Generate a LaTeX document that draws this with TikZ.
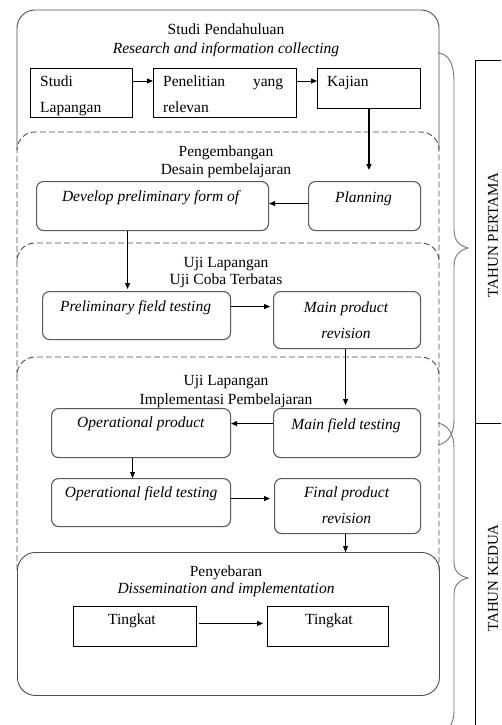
\documentclass[tikz,border=0pt]{standalone}
\usepackage{fontspec}
\setmainfont{Liberation Serif}
\usetikzlibrary{positioning,arrows.meta}

\tikzset{
  frame/.style={draw=black!70, line width=0.9pt, rounded corners=18pt},
  dframe/.style={frame, dash pattern=on 6pt off 3pt},
  sqbox/.style={draw=black, line width=0.9pt, anchor=north west, inner sep=0pt},
  rbox/.style={draw=black!65, line width=1.1pt, rounded corners=7pt, anchor=north west, inner sep=0pt},
  txt/.style={anchor=base, inner sep=0pt},
  flow/.style={-{Triangle[length=6pt,width=5pt]}, line width=0.9pt},
  brace/.style={draw=black!55, line width=0.9pt},
}

\begin{document}
\begin{tikzpicture}[x=1pt, y=-1pt, font=\fontsize{15.5}{18.6}\selectfont]
  \useasboundingbox (0,0) rectangle (501,725);
  \clip (0,0) rectangle (501,725);

  % Frames of the stages (each side stops where the next frame begins)
  \draw[frame]  (17,150) -- (17,10)  -- (439,10)  -- (439,150);
  \draw[dframe] (17,261) -- (17,132) -- (439,132) -- (439,261);
  \draw[dframe] (17,375) -- (17,243) -- (439,243) -- (439,375);
  \draw[dframe] (17,570) -- (17,357) -- (439,357) -- (439,570);
  \node[frame, anchor=north west, minimum width=422pt, minimum height=143pt, inner sep=0pt] (sebar) at (17,552) {};

  % Titles of the stages
  \node[txt] (studiT) at (226,35)  {Studi Pendahuluan};
  \node[txt] (studiS) at (226,53)  {\textit{Research and information collecting}};
  \node[txt] (kembT)  at (226,156) {Pengembangan};
  \node[txt] (kembS)  at (226,174) {Desain pembelajaran};
  \node[txt] (ujiT)   at (226,267) {Uji Lapangan};
  \node[txt] (ujiS)   at (226,284) {Uji Coba Terbatas};
  \node[txt] (implT)  at (226,385) {Uji Lapangan};
  \node[txt] (implS)  at (226,404) {Implementasi Pembelajaran};
  \node[txt] (sebarT) at (226,576) {Penyebaran};
  \node[txt] (sebarS) at (226,593) {\textit{Dissemination and implementation}};

  % Boxes
  \node[sqbox, minimum width=102pt, minimum height=49pt] (studi)     at (30,68)   {};
  \node[sqbox, minimum width=143pt, minimum height=49pt] (teliti)    at (153,68)  {};
  \node[sqbox, minimum width=103pt, minimum height=40pt] (kajian)    at (317,68)  {};
  \node[rbox,  minimum width=232pt, minimum height=49pt] (develop)   at (36,181)  {};
  \node[rbox,  minimum width=112pt, minimum height=49pt] (plan)      at (308,181) {};
  \node[rbox,  minimum width=188pt, minimum height=48pt] (prelim)    at (42,291)  {};
  \node[rbox,  minimum width=147pt, minimum height=57pt] (mainrev)   at (273,291) {};
  \node[rbox,  minimum width=179pt, minimum height=49pt] (opprod)    at (51,408)  {};
  \node[rbox,  minimum width=147pt, minimum height=49pt] (mainfield) at (273,408) {};
  \node[rbox,  minimum width=179pt, minimum height=48pt] (opfield)   at (51,478)  {};
  \node[rbox,  minimum width=146pt, minimum height=55pt] (finalrev)  at (274,478) {};
  \node[sqbox, minimum width=123pt, minimum height=40pt] (tingA)     at (73,606)  {};
  \node[sqbox, minimum width=121pt, minimum height=40pt] (tingB)     at (267,606) {};

  % Texts in the boxes
  \node[txt, anchor=base west] (studiL)  at ([shift={(10,18)}]studi.north west)  {\parbox[t]{90pt}{Studi\\[7.4pt]Lapangan}};
  \node[txt, anchor=base west] (telitiL) at ([shift={(10,18)}]teliti.north west) {\parbox[t]{120pt}{Penelitian\hfill yang\\[7.4pt]relevan}};
  \node[txt, anchor=base west] (kajianL) at ([shift={(10,18)}]kajian.north west) {Kajian};
  \node[txt] (developL)   at ([shift={(-1,20)}]develop.north)   {\textit{Develop preliminary form of}};
  \node[txt] (planL)      at ([shift={(-1,21)}]plan.north)      {\textit{Planning}};
  \node[txt] (prelimL)    at ([shift={(-1,20)}]prelim.north)    {\textit{Preliminary field testing}};
  \node[txt] (mainrevL)   at ([shift={(-1,21)}]mainrev.north)   {\parbox[t]{140pt}{\centering\itshape Main product\\[7.4pt]revision}};
  \node[txt] (opprodL)    at ([shift={(0,19)}]opprod.north)     {\textit{Operational product}};
  \node[txt] (mainfieldL) at ([shift={(-1,21)}]mainfield.north) {\textit{Main field testing}};
  \node[txt] (opfieldL)   at ([shift={(0,19)}]opfield.north)    {\textit{Operational field testing}};
  \node[txt] (finalrevL)  at ([shift={(-1,19)}]finalrev.north)  {\parbox[t]{140pt}{\centering\itshape Final product\\[7.4pt]revision}};
  \node[txt] (tingAL)     at ([shift={(-3,18)}]tingA.north)     {Tingkat};
  \node[txt] (tingBL)     at ([shift={(1,18)}]tingB.north)      {Tingkat};

  % Arrows
  \draw[flow] ([yshift=-13pt]studi.north east) -- ([yshift=-13pt]teliti.north west);
  \draw[flow] ([yshift=-13pt]teliti.north east) -- ([yshift=-13pt]kajian.north west);
  \draw[flow, line width=1.5pt, shorten >=11pt] (kajian.south) -- (kajian.south |- plan.north);
  \draw[flow] ([yshift=2.5pt]plan.west) -- ([yshift=2.5pt]develop.east);
  \draw[flow, shorten >=2pt] ([xshift=-25pt]develop.south) -- ([xshift=-25pt]develop.south |- prelim.north);
  \draw[flow, shorten >=3pt] ([yshift=9pt]prelim.east) -- ([yshift=9pt]prelim.east -| mainrev.west);
  \draw[flow, shorten >=3pt] ([xshift=-1.5pt]mainrev.south) -- ([xshift=-1.5pt]mainrev.south |- mainfield.north);
  \draw[flow] ([yshift=9.5pt]mainfield.west) -- ([yshift=9.5pt]mainfield.west -| opprod.east);
  \draw[flow] ([xshift=-8.5pt]opprod.south) -- ([xshift=-8.5pt]opprod.south |- opfield.north);
  \draw[flow, shorten >=4pt] ([yshift=4pt]opfield.east) -- ([yshift=4pt]opfield.east -| finalrev.west);
  \draw[flow] ([xshift=-2pt]finalrev.south) -- ([xshift=-2pt]finalrev.south |- sebar.north);
  \draw[flow, shorten <=2pt, shorten >=4pt] ([yshift=3pt]tingA.east) -- ([yshift=3pt]tingA.east -| tingB.west);

  % Braces for the two years
  \draw[brace] (438,53) .. controls (449,54) and (454,64) .. (454,82) -- (454,230)
    .. controls (454,241) and (460,246) .. (468,248) .. controls (460,250) and (454,255) .. (454,266)
    -- (454,420) .. controls (454,434) and (448,443) .. (438,445);
  \draw[brace] (438,423) .. controls (448,425) and (454,434) .. (454,448) -- (454,562)
    .. controls (454,572) and (460,576) .. (468,578) .. controls (460,580) and (454,584) .. (454,595)
    -- (454,712) .. controls (454,718) and (452,723) .. (449,728);

  % Year column
  \draw (475,60) -- (475,730);
  \draw (475,60) -- (505,60);
  \draw (475,423) -- (505,423);
  \node[rotate=90, inner sep=0pt, font=\fontsize{15}{18}\selectfont] (pertama) at (493,235) {TAHUN PERTAMA};
  \node[rotate=90, inner sep=0pt, font=\fontsize{15}{18}\selectfont] (kedua)   at (493,578) {TAHUN KEDUA};
\end{tikzpicture}
\end{document}
